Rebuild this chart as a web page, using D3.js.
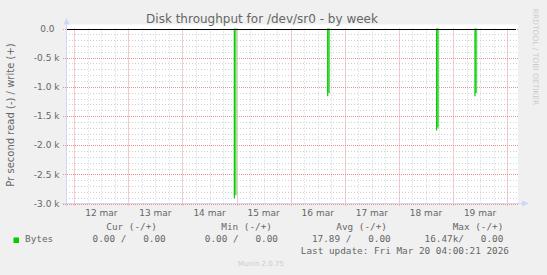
<!DOCTYPE html>
<html>
<head>
<meta charset="utf-8">
<script src="https://cdn.jsdelivr.net/npm/d3@7"></script>
<style>
  body { margin: 0; background: #f0f0f0; }
  svg { display: block; }
  .legend text { white-space: pre; }
</style>
</head>
<body>
<script>
// spikes of read throughput (plotted negative), week view
const spikeTimes = ['2026-03-14T23:00', '2026-03-16T16:25', '2026-03-18T16:45', '2026-03-19T09:45']
const spikeValues = [-2910, -1160, -1750, -1160]

const yTicks = [0, -500, -1000, -1500, -2000, -2500, -3000]
const yTickLabels = ['0.0', '-0.5 k', '-1.0 k', '-1.5 k', '-2.0 k', '-2.5 k', '-3.0 k']
const dayLabels = ['12 mar', '13 mar', '14 mar', '15 mar', '16 mar', '17 mar', '18 mar', '19 mar']

const legendHeaders = ['Cur (-/+)', 'Min (-/+)', 'Avg (-/+)', 'Max (-/+)']
const legendValues = ['0.00 /   0.00', '0.00 /   0.00', '17.89 /   0.00', '16.47k/   0.00']

const dimensions = { width: 547, height: 275 }
const plot = { left: 66, right: 518, top: 28.5, bottom: 203.5 }

const svg = d3.select('body').append('svg')
    .attr('width', dimensions.width)
    .attr('height', dimensions.height)
    .style('font-family', 'DejaVu Sans')

svg.append('rect')
    .attr('width', dimensions.width)
    .attr('height', dimensions.height)
    .attr('fill', '#f0f0f0')

const parse = d3.timeParse('%Y-%m-%dT%H:%M')

const x = d3.scaleTime()
    .domain([parse('2026-03-11T20:20'), parse('2026-03-20T04:50')])
    .range([plot.left, plot.right])

const y = d3.scaleLinear()
    .domain([-3000, 0])
    .range([plot.bottom, plot.top])

// canvas
svg.append('rect')
    .attr('x', plot.left)
    .attr('y', plot.top - 4)
    .attr('width', plot.right - plot.left)
    .attr('height', plot.bottom - plot.top + 4)
    .attr('fill', '#fff')

const g = svg.append('g')

// minor grid
const minorY = d3.range(-3000, 1, 100).filter(v => v % 500 !== 0)
g.selectAll('.hminor')
    .data(minorY)
    .enter()
    .append('line')
    .attr('x1', plot.left)
    .attr('x2', plot.right)
    .attr('y1', d => Math.round(y(d)) + 0.5)
    .attr('y2', d => Math.round(y(d)) + 0.5)
    .attr('stroke', '#d0d0d0')
    .attr('stroke-dasharray', '1,2')

const minorX = d3.timeHour.every(6).range(x.domain()[0], x.domain()[1])
    .filter(d => d.getHours() !== 0)
g.selectAll('.vminor')
    .data(minorX)
    .enter()
    .append('line')
    .attr('x1', d => Math.round(x(d)) + 0.5)
    .attr('x2', d => Math.round(x(d)) + 0.5)
    .attr('y1', plot.top)
    .attr('y2', plot.bottom)
    .attr('stroke', '#d0d0d0')
    .attr('stroke-dasharray', '1,2')

// major grid
g.selectAll('.hmajor')
    .data(yTicks)
    .enter()
    .append('line')
    .attr('x1', plot.left - 3)
    .attr('x2', plot.right)
    .attr('y1', d => Math.round(y(d)) + 0.5)
    .attr('y2', d => Math.round(y(d)) + 0.5)
    .attr('stroke', '#e89494')
    .attr('stroke-dasharray', '1,1')

const days = d3.timeDay.range(x.domain()[0], x.domain()[1])
g.selectAll('.vmajor')
    .data(days)
    .enter()
    .append('line')
    .attr('x1', d => Math.round(x(d)) + 0.5)
    .attr('x2', d => Math.round(x(d)) + 0.5)
    .attr('y1', plot.top)
    .attr('y2', plot.bottom + 3)
    .attr('stroke', '#e89494')
    .attr('stroke-dasharray', '1,1')

// spikes: light fill plus solid edge line
g.selectAll('.spikefill')
    .data(spikeTimes)
    .enter()
    .append('rect')
    .attr('x', d => x(parse(d)))
    .attr('width', d => x(d3.timeHour.offset(parse(d), 1)) - x(parse(d)))
    .attr('y', plot.top)
    .attr('height', (d, i) => y(spikeValues[i]) - y(0) - 3)
    .attr('fill', '#55dd55')

g.selectAll('.spikeline')
    .data(spikeTimes)
    .enter()
    .append('line')
    .attr('x1', d => x(parse(d)))
    .attr('x2', d => x(parse(d)))
    .attr('y1', y(0))
    .attr('y2', (d, i) => y(spikeValues[i]))
    .attr('stroke', '#00cc00')
    .attr('stroke-width', 1.2)

// zero line
g.append('line')
    .attr('x1', plot.left)
    .attr('x2', plot.right - 2)
    .attr('y1', Math.round(y(0)) + 0.5)
    .attr('y2', Math.round(y(0)) + 0.5)
    .attr('stroke', '#000')

// axes with arrows
const axisColor = '#cfd6f8'
g.append('line')
    .attr('x1', plot.left - 4).attr('x2', plot.right + 4)
    .attr('y1', plot.bottom).attr('y2', plot.bottom)
    .attr('stroke', axisColor)
g.append('path')
    .attr('d', `M${plot.right + 4},${plot.bottom - 3}L${plot.right + 11},${plot.bottom}L${plot.right + 4},${plot.bottom + 3}Z`)
    .attr('fill', axisColor)
g.append('line')
    .attr('x1', plot.left + 0.5).attr('x2', plot.left + 0.5)
    .attr('y1', plot.bottom + 3).attr('y2', plot.top - 4)
    .attr('stroke', axisColor)
g.append('path')
    .attr('d', `M${plot.left - 2.5},${plot.top - 4}L${plot.left + 0.5},${plot.top - 11}L${plot.left + 3.5},${plot.top - 4}Z`)
    .attr('fill', axisColor)

// tick labels
svg.selectAll('.ylabel')
    .data(yTicks)
    .enter()
    .append('text')
    .attr('x', (d, i) => yTickLabels[i].endsWith('k') ? 59.5 : 54.5)
    .attr('y', d => y(d) + 3.3)
    .attr('text-anchor', 'end')
    .attr('font-size', '9px')
    .attr('fill', '#666')
    .text((d, i) => yTickLabels[i])

svg.selectAll('.xlabel')
    .data(dayLabels)
    .enter()
    .append('text')
    .attr('x', (d, i) => x(d3.timeHour.offset(days[i], 12)))
    .attr('y', 215.5)
    .attr('text-anchor', 'middle')
    .attr('font-size', '9px')
    .attr('fill', '#666')
    .text(d => d)

// title and axis title
svg.append('text')
    .attr('x', 262)
    .attr('y', 22.5)
    .attr('text-anchor', 'middle')
    .attr('font-size', '12px')
    .attr('fill', '#666')
    .text('Disk throughput for /dev/sr0 - by week')

svg.append('text')
    .attr('transform', 'translate(13.5,115) rotate(-90)')
    .attr('text-anchor', 'middle')
    .attr('font-size', '10px')
    .attr('fill', '#666')
    .text('Pr second read (-) / write (+)')

svg.append('text')
    .attr('transform', 'translate(533,57) rotate(90)')
    .attr('text-anchor', 'middle')
    .attr('font-size', '7.5px')
    .attr('fill', '#ccc')
    .text('RRDTOOL / TOBI OETIKER')

// legend
const legend = svg.append('g')
    .attr('class', 'legend')
    .style('font-family', 'DejaVu Sans Mono')
    .attr('font-size', '9.35px')
    .attr('fill', '#666')

const headRight = [157, 272, 387, 503.3]
const valRight = [165.7, 278, 390.7, 503.3]
legend.selectAll('.lhead')
    .data(legendHeaders)
    .enter()
    .append('text')
    .attr('x', (d, i) => headRight[i])
    .attr('y', 230)
    .attr('text-anchor', 'end')
    .text(d => d)

legend.selectAll('.lval')
    .data(legendValues)
    .enter()
    .append('text')
    .attr('x', (d, i) => valRight[i])
    .attr('y', 242)
    .attr('text-anchor', 'end')
    .text(d => d)

legend.append('rect')
    .attr('x', 13.5).attr('y', 237.5)
    .attr('width', 5.5).attr('height', 5.5)
    .attr('fill', '#00cc00')
legend.append('text')
    .attr('x', 25)
    .attr('y', 242)
    .text('Bytes')

legend.append('text')
    .attr('x', 509)
    .attr('y', 254)
    .attr('text-anchor', 'end')
    .text('Last update: Fri Mar 20 04:00:21 2026')

svg.append('text')
    .attr('x', 261)
    .attr('y', 266)
    .attr('text-anchor', 'middle')
    .attr('font-size', '7px')
    .attr('fill', '#ccc')
    .text('Munin 2.0.75')
</script>
</body>
</html>
